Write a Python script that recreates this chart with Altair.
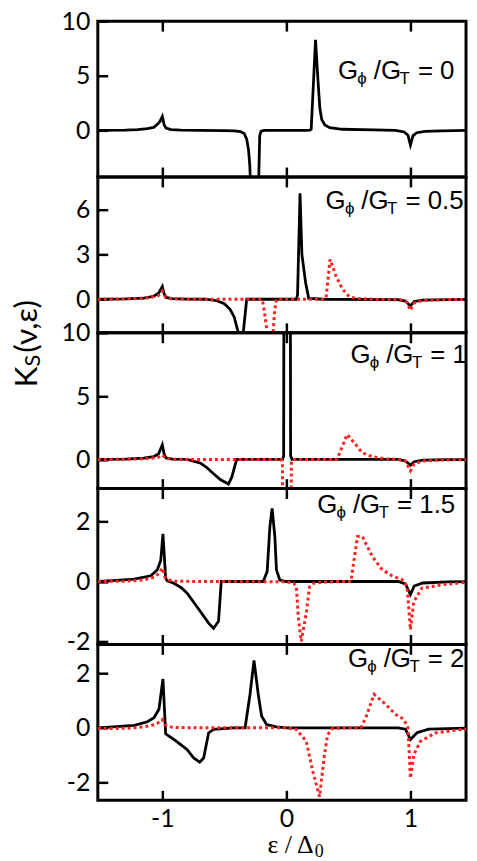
import altair as alt
import pandas as pd

# ---------------- data ----------------
x_ticks = [-1, 0, 1]
ratios = ["0", "0.5", "1", "1.5", "2"]
y_domains = [[-4.27, 10], [-2.25, 8.2], [-2.3, 10], [-2.1, 3.1], [-2.66, 3.06]]
y_ticks = [[0, 5, 10], [0, 3, 6], [0, 5, 10], [-2, 0, 2], [-2, 0, 2]]

p1_black = [(-1.52, 0.0), (-1.3, 0.03), (-1.2, 0.07), (-1.12, 0.15), (-1.07, 0.27), (-1.04, 0.55),
            (-1.02, 0.8), (-1.0, 1.27), (-0.985, 0.5), (-0.97, 0.2), (-0.93, 0.06), (-0.85, 0.02),
            (-0.7, 0.0), (-0.5, -0.02), (-0.42, -0.05), (-0.37, -0.12), (-0.34, -0.3), (-0.32, -0.8),
            (-0.305, -1.8), (-0.295, -3.2), (-0.285, -6.0), (-0.226, -6.0), (-0.215, -0.5),
            (-0.205, -0.1), (-0.18, 0.0), (0.0, 0.0), (0.15, 0.0), (0.19, 0.03), (0.2, 0.1),
            (0.235, 8.3), (0.255, 4.5), (0.27, 2.0), (0.285, 1.0), (0.31, 0.5), (0.35, 0.25),
            (0.45, 0.1), (0.7, 0.05), (0.88, 0.0), (0.95, -0.15), (0.98, -0.45), (1.0, -1.35),
            (1.02, -0.5), (1.05, -0.22), (1.12, -0.1), (1.25, -0.04), (1.52, 0.0)]

p2_black = [(-1.52, 0.0), (-1.3, 0.03), (-1.15, 0.08), (-1.07, 0.2), (-1.03, 0.4), (-1.0, 0.85),
            (-0.985, 0.35), (-0.97, 0.12), (-0.92, 0.04), (-0.8, 0.01), (-0.65, 0.0), (-0.56, -0.1),
            (-0.5, -0.3), (-0.454, -0.67), (-0.42, -1.2), (-0.395, -2.0), (-0.375, -2.6),
            (-0.352, -2.6), (-0.32, 0.0), (-0.2, 0.0), (0.08, 0.0), (0.09, 0.3), (0.11, 7.1),
            (0.125, 3.0), (0.155, 1.1), (0.18, 0.05), (0.3, 0.0), (0.9, -0.02), (0.96, -0.12),
            (1.0, -0.45), (1.03, -0.15), (1.1, -0.06), (1.3, -0.02), (1.52, 0.0)]
p2_red = [(-1.52, 0.0), (-1.25, 0.03), (-1.1, 0.1), (-1.03, 0.25), (-1.0, 0.55), (-0.975, 0.15),
          (-0.93, 0.04), (-0.8, 0.0), (-0.2, 0.0), (-0.187, -0.3), (-0.165, -1.6), (-0.15, -2.6),
          (-0.11, -2.6), (-0.095, -0.8), (-0.08, 0.0), (0.3, 0.0), (0.32, 0.1), (0.352, 2.67),
          (0.4, 1.55), (0.453, 0.67), (0.506, 0.18), (0.56, 0.05), (0.7, 0.0), (0.93, -0.05),
          (0.97, -0.2), (1.0, -0.75), (1.03, -0.25), (1.1, -0.08), (1.3, -0.02), (1.52, 0.0)]

p3_black = [(-1.52, 0.0), (-1.3, 0.03), (-1.15, 0.1), (-1.07, 0.22), (-1.03, 0.45), (-1.0, 1.16),
            (-0.985, 0.4), (-0.97, 0.12), (-0.92, 0.03), (-0.8, 0.0), (-0.69, -0.3), (-0.64, -0.65),
            (-0.587, -1.13), (-0.53, -1.6), (-0.467, -1.94), (-0.44, -1.4), (-0.41, -0.3),
            (-0.4, 0.0), (-0.1, 0.0), (-0.03, 0.0), (-0.022, 0.3), (-0.02, 14.0), (0.032, 14.0),
            (0.034, 0.3), (0.045, 0.0), (0.9, 0.0), (0.96, -0.12), (1.0, -0.45), (1.03, -0.18),
            (1.1, -0.06), (1.3, -0.02), (1.52, 0.0)]
p3_red = [(-1.52, 0.0), (-1.25, 0.02), (-1.1, 0.08), (-1.03, 0.18), (-1.0, 0.35), (-0.975, 0.12),
          (-0.93, 0.03), (-0.8, 0.0), (-0.04, 0.0), (-0.032, -0.3), (-0.03, -5.0), (0.038, -5.0),
          (0.04, -0.3), (0.05, 0.0), (0.4, 0.0), (0.41, 0.05), (0.49, 1.97), (0.56, 1.16),
          (0.61, 0.54), (0.69, 0.22), (0.8, 0.05), (0.9, 0.0), (0.96, -0.12), (1.0, -0.9),
          (1.03, -0.35), (1.1, -0.12), (1.25, -0.04), (1.52, 0.0)]

p4_black = [(-1.52, 0.0), (-1.4, 0.03), (-1.227, 0.08), (-1.093, 0.19), (-1.04, 0.39), (-1.013, 0.7),
            (-0.995, 1.59), (-0.973, 0.11), (-0.96, 0.02), (-0.907, -0.06), (-0.85, -0.2),
            (-0.8, -0.39), (-0.693, -1.0), (-0.627, -1.39), (-0.587, -1.56), (-0.547, -1.33),
            (-0.525, 0.0), (-0.3, 0.0), (-0.187, 0.0), (-0.155, 0.33), (-0.133, 1.83),
            (-0.115, 2.44), (-0.093, 1.5), (-0.08, 0.39), (-0.053, 0.05), (0.0, 0.0), (0.9, 0.0),
            (0.96, -0.08), (1.0, -0.44), (1.03, -0.15), (1.1, -0.05), (1.3, -0.01), (1.52, 0.0)]
p4_red = [(-1.52, 0.0), (-1.3, 0.01), (-1.15, 0.05), (-1.06, 0.15), (-1.02, 0.3), (-1.0, 0.45),
          (-0.98, 0.15), (-0.95, 0.05), (-0.9, 0.01), (-0.7, 0.0), (0.0, -0.01), (0.06, -0.06),
          (0.08, -0.17), (0.098, -1.28), (0.12, -2.0), (0.16, -1.06), (0.187, -0.17),
          (0.22, -0.06), (0.3, -0.02), (0.45, 0.0), (0.52, 0.0), (0.573, 1.5), (0.613, 1.5),
          (0.693, 0.83), (0.773, 0.39), (0.853, 0.19), (0.933, 0.06), (0.973, -0.17),
          (1.0, -1.61), (1.027, -0.67), (1.093, -0.22), (1.253, -0.11), (1.467, -0.02),
          (1.52, -0.02)]

p5_black = [(-1.52, 0.0), (-1.4, 0.03), (-1.227, 0.09), (-1.12, 0.22), (-1.067, 0.37),
            (-1.027, 0.68), (-0.995, 1.79), (-0.973, -0.22), (-0.907, -0.43), (-0.8, -0.8),
            (-0.747, -1.11), (-0.699, -1.26), (-0.667, -1.11), (-0.627, -0.19), (-0.587, -0.06),
            (-0.427, 0.0), (-0.333, 0.0), (-0.293, 1.23), (-0.261, 2.47), (-0.227, 1.23),
            (-0.2, 0.43), (-0.16, 0.12), (-0.08, 0.03), (0.0, 0.0), (0.9, 0.0), (0.96, -0.05),
            (1.0, -0.43), (1.053, -0.18), (1.147, -0.05), (1.52, 0.0)]
p5_red = [(-1.52, -0.03), (-1.3, -0.02), (-1.15, 0.03), (-1.06, 0.12), (-1.02, 0.22), (-1.0, 0.3),
          (-0.98, 0.12), (-0.95, 0.04), (-0.9, 0.01), (-0.7, 0.0), (0.0, 0.0), (0.08, -0.06),
          (0.16, -0.49), (0.213, -1.6), (0.267, -2.53), (0.307, -0.99), (0.333, -0.25),
          (0.373, -0.02), (0.5, 0.0), (0.6, 0.0), (0.64, 0.37), (0.707, 1.23), (0.8, 0.86),
          (0.88, 0.49), (0.947, 0.31), (0.98, 0.0), (1.0, -1.85), (1.027, -0.99), (1.08, -0.5),
          (1.2, -0.19), (1.413, -0.06), (1.52, -0.04)]

panels_black = [p1_black, p2_black, p3_black, p4_black, p5_black]
panels_red = [None, p2_red, p3_red, p4_red, p5_red]

# ---------------- style / layout ----------------
W, H = 371, 157
X_DOMAIN = [-1.52, 1.448]
RED = "#ff2020"
SANS = "Liberation Sans"
TICKFONT = "Lato"
label_xy = [(243.0, 58.3), (230.5, 32.6), (255.5, 30.0), (222.0, 24.3), (253.0, 22.7)]
NEG = "datum.value < 0 ? '-' + abs(datum.value) : '' + datum.value"


def text_layer(s, x, y, size, font=SANS, angle=None):
    kw = dict(align="left", baseline="alphabetic", fontSize=size, font=font, color="black")
    if angle is not None:
        kw["angle"] = angle
    return alt.Chart(pd.DataFrame({"t": [s]})).mark_text(**kw).encode(
        x=alt.value(x), y=alt.value(y), text="t:N")


def ratio_label(val, x0, y0):
    return [
        text_layer("G", x0 - 1, y0, 26),
        text_layer("\u03d5", x0 + 18.5, y0 + 5, 17),
        text_layer("/G", x0 + 35, y0, 26),
        text_layer("T", x0 + 61, y0 + 5, 17),
        text_layer("= " + val, x0 + 79.5, y0, 26),
    ]


def panel(i):
    xs = alt.Scale(domain=X_DOMAIN, nice=False, zero=False)
    ys = alt.Scale(domain=y_domains[i], nice=False, zero=False)
    tick_common = dict(values=x_ticks, offset=-10, tickSize=10, tickWidth=2.5, tickColor="black",
                       domain=False, grid=False, title=None, labelFlush=False)
    xb = alt.Axis(orient="bottom", labels=(i == 4), labelFont=TICKFONT, labelFontSize=25,
                  labelColor="black", labelPadding=6, labelExpr=NEG, **tick_common)
    xt = alt.Axis(orient="top", labels=False, **tick_common)
    ya = alt.Axis(orient="left", values=y_ticks[i], offset=-10, tickSize=10, tickWidth=2.5,
                  tickColor="black", domain=False, grid=False, title=None, labelFont=TICKFONT,
                  labelFontSize=25, labelColor="black", labelPadding=8, labelExpr=NEG,
                  labelFlush=False)
    bdf = pd.DataFrame(panels_black[i], columns=["e", "k"])
    layers = [
        alt.Chart(bdf).mark_line(color="black", strokeWidth=2.8, clip=True).encode(
            x=alt.X("e:Q", scale=xs, axis=xb), y=alt.Y("k:Q", scale=ys, axis=ya)),
        alt.Chart(bdf).mark_line(opacity=0, clip=True).encode(
            x=alt.X("e:Q", scale=xs, axis=xt), y=alt.Y("k:Q", scale=ys, axis=None)),
    ]
    if panels_red[i] is not None:
        rdf = pd.DataFrame(panels_red[i], columns=["e", "k"])
        layers.append(
            alt.Chart(rdf).mark_line(color=RED, strokeWidth=3, strokeDash=[3, 3], clip=True).encode(
                x=alt.X("e:Q", scale=xs, axis=None), y=alt.Y("k:Q", scale=ys, axis=None)))
    layers += ratio_label(ratios[i], *label_xy[i])
    if i == 2:
        layers += [
            text_layer("K", -61, 55, 32, TICKFONT, 270),
            text_layer("S", -58, 34, 22, TICKFONT, 270),
            text_layer("(\u03bd,\u03b5)", -61, 20, 32, TICKFONT, 270),
        ]
    if i == 4:
        layers += [
            text_layer("\u03b5 / \u0394", 171, 210, 26, "Liberation Serif"),
            text_layer("0", 218.5, 214, 18, "Liberation Serif"),
        ]
    return alt.layer(*layers).resolve_axis(x="independent", y="independent").properties(
        width=W, height=H)


chart = alt.vconcat(*[panel(i) for i in range(5)], spacing=0, bounds="flush").configure_view(
    stroke="black", strokeWidth=3).properties(
    padding={"left": 1.5, "top": -4, "right": 0, "bottom": 0})

chart.save("out.html", embed_options={"renderer": "svg", "actions": False})
